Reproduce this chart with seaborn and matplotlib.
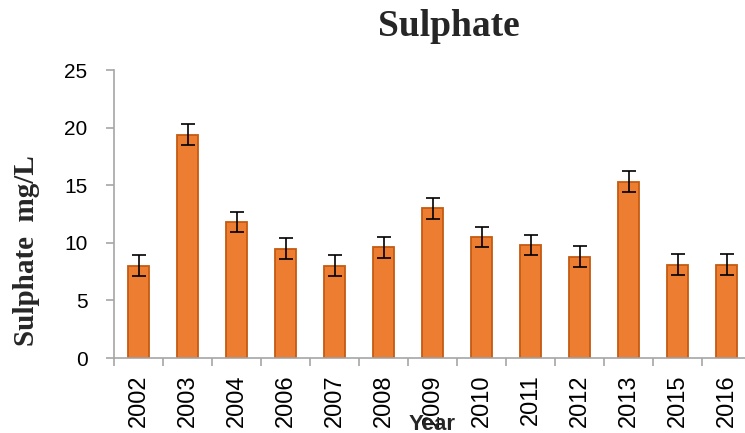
import numpy as np
import pandas as pd
import matplotlib
matplotlib.use("Agg")
import matplotlib.pyplot as plt
import seaborn as sns
from matplotlib.ticker import FixedLocator

# data
years = ["2002", "2003", "2004", "2006", "2007", "2008", "2009",
         "2010", "2011", "2012", "2013", "2015", "2016"]
sulphate = [8.0, 19.4, 11.8, 9.5, 8.0, 9.6, 13.0, 10.5, 9.8, 8.8, 15.3, 8.1, 8.1]
errors = [0.9, 0.95, 0.9, 0.9, 0.9, 0.9, 0.9, 0.9, 0.9, 0.9, 0.9, 0.9, 0.9]

df = pd.DataFrame({"Year": years, "Sulphate": sulphate})

sns.set_style("white")
plt.rcParams["font.family"] = ["Liberation Sans", "DejaVu Sans"]

fig = plt.figure(figsize=(7.45, 4.33), dpi=100)
ax = fig.add_axes([114 / 745, 75 / 433, 637 / 745, 288 / 433])

sns.barplot(data=df, x="Year", y="Sulphate", color="#ED7D31", saturation=1,
            width=0.42, edgecolor="#C55A11", linewidth=1.3, errorbar=None, ax=ax)
ax.errorbar(np.arange(len(years)), sulphate, yerr=errors, fmt="none",
            ecolor="black", elinewidth=1.2, capsize=5, capthick=1.2)

ax.set_ylim(0, 25)
ax.set_xlim(-0.5, len(years) - 0.5)
ax.set_yticks([0, 5, 10, 15, 20, 25])
ax.tick_params(axis="y", labelsize=15, length=6, color="#A6A6A6", width=1.2,
               direction="out", pad=13, left=True, labelcolor="black")
ax.tick_params(axis="x", which="major", length=0, labelsize=17, pad=12,
               labelrotation=90, labelcolor="black")
ax.xaxis.set_minor_locator(FixedLocator(np.arange(-0.5, len(years), 1)))
ax.tick_params(axis="x", which="minor", length=6, color="#A6A6A6", width=1.2,
               direction="out", bottom=True)

for side in ["top", "right"]:
    ax.spines[side].set_visible(False)
for side in ["left", "bottom"]:
    ax.spines[side].set_color("#A6A6A6")
    ax.spines[side].set_linewidth(1.2)

ax.set_xlabel("")
ax.set_ylabel("")
fig.text(449 / 745, 1 - 27 / 433, "Sulphate", ha="center", va="center",
         fontsize=27, fontweight="bold", family="Liberation Serif")
fig.text(27 / 745, 1 - 251 / 433, "Sulphate  mg/L", ha="center", va="center",
         rotation=90, fontsize=21, fontweight="bold", family="Liberation Serif")
fig.text(432 / 745, 1 - 424 / 433, "Year", ha="center", va="center",
         fontsize=16, fontweight="bold")

fig.savefig("out.png", dpi=100)
